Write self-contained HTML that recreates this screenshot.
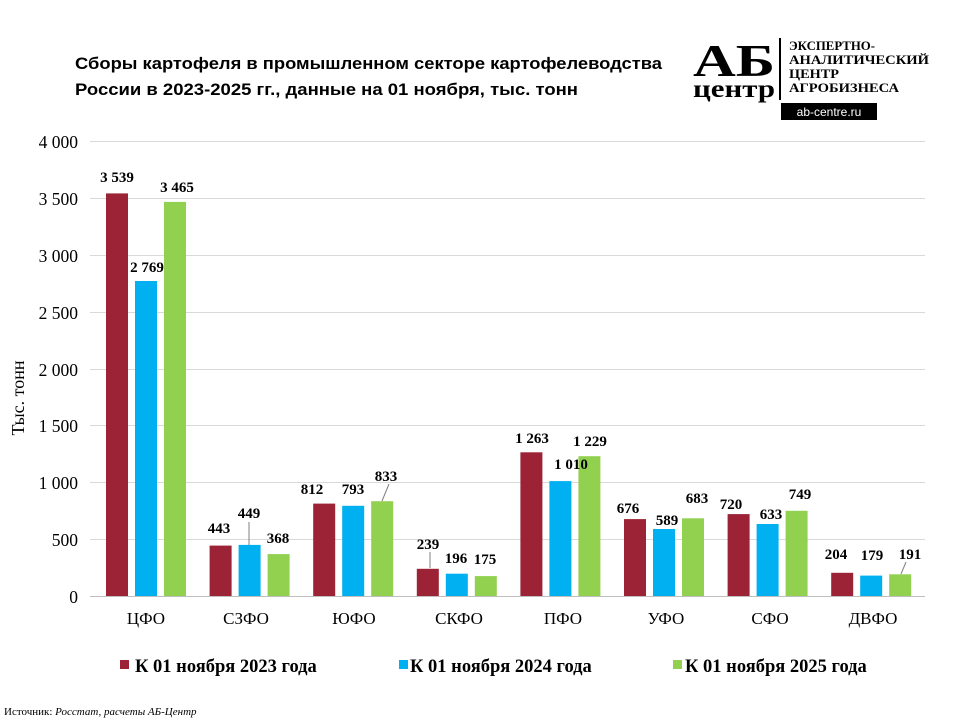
<!DOCTYPE html>
<html><head><meta charset="utf-8"><style>
body{margin:0;background:#fff}
svg{display:block}
.v{font:bold 15px "Liberation Serif",serif;text-anchor:middle;fill:#000}
.t{font:17.5px "Liberation Serif",serif;text-anchor:end;fill:#000}
.c{font:17px "Liberation Serif",serif;text-anchor:middle;fill:#000}
.l{font:bold 18.5px "Liberation Serif",serif;fill:#000}
</style></head><body>
<svg width="960" height="720" xmlns="http://www.w3.org/2000/svg">
<text x="75" y="69" textLength="587" lengthAdjust="spacingAndGlyphs" style="font:bold 17px 'Liberation Sans',sans-serif">Сборы картофеля в промышленном секторе картофелеводства</text>
<text x="75" y="95" textLength="503" lengthAdjust="spacingAndGlyphs" style="font:bold 17px 'Liberation Sans',sans-serif">России в 2023-2025 гг., данные на 01 ноября, тыс. тонн</text>
<!-- logo -->
<text x="693" y="76" textLength="82" lengthAdjust="spacingAndGlyphs" style="font:bold 46px 'Liberation Serif',serif">АБ</text>
<text x="693" y="97" textLength="82" lengthAdjust="spacingAndGlyphs" style="font:bold 25px 'Liberation Serif',serif">центр</text>
<rect x="779" y="38" width="2" height="62" fill="#000"/>
<g style="font:bold 13px 'Liberation Serif',serif">
<text x="789" y="50" textLength="86" lengthAdjust="spacingAndGlyphs">ЭКСПЕРТНО-</text>
<text x="789" y="64" textLength="140" lengthAdjust="spacingAndGlyphs">АНАЛИТИЧЕСКИЙ</text>
<text x="789" y="78" textLength="50" lengthAdjust="spacingAndGlyphs">ЦЕНТР</text>
<text x="789" y="92" textLength="110" lengthAdjust="spacingAndGlyphs">АГРОБИЗНЕСА</text>
</g>
<rect x="781" y="103" width="96" height="17" fill="#000"/>
<text x="829" y="116" style="font:12px 'Liberation Sans',sans-serif;fill:#fff;text-anchor:middle">ab-centre.ru</text>
<!-- grid -->
<g stroke="#d9d9d9" stroke-width="1">
<line x1="90" x2="925" y1="141.5" y2="141.5"/><line x1="90" x2="925" y1="198.5" y2="198.5"/>
<line x1="90" x2="925" y1="255.5" y2="255.5"/><line x1="90" x2="925" y1="312.5" y2="312.5"/>
<line x1="90" x2="925" y1="369.5" y2="369.5"/><line x1="90" x2="925" y1="425.5" y2="425.5"/>
<line x1="90" x2="925" y1="482.5" y2="482.5"/><line x1="90" x2="925" y1="539.5" y2="539.5"/>
</g>
<g>
<text x="78" y="148" class="t">4 000</text><text x="78" y="205" class="t">3 500</text>
<text x="78" y="262" class="t">3 000</text><text x="78" y="319" class="t">2 500</text>
<text x="78" y="376" class="t">2 000</text><text x="78" y="432" class="t">1 500</text>
<text x="78" y="489" class="t">1 000</text><text x="78" y="546" class="t">500</text>
<text x="78" y="603" class="t">0</text>
</g>
<text transform="translate(24,398) rotate(-90)" style="font:18px 'Liberation Serif',serif;text-anchor:middle">Тыс. тонн</text>
<g>
<rect x="106" y="193.4" width="22" height="402.6" fill="#9B2335"/>
<rect x="135" y="281" width="22" height="315" fill="#00B0F0"/>
<rect x="164" y="201.9" width="22" height="394.1" fill="#92D050"/>
<rect x="209.6" y="545.6" width="22" height="50.4" fill="#9B2335"/>
<rect x="238.6" y="544.9" width="22" height="51.1" fill="#00B0F0"/>
<rect x="267.6" y="554.1" width="22" height="41.9" fill="#92D050"/>
<rect x="313.2" y="503.6" width="22" height="92.4" fill="#9B2335"/>
<rect x="342.2" y="505.8" width="22" height="90.2" fill="#00B0F0"/>
<rect x="371.2" y="501.2" width="22" height="94.8" fill="#92D050"/>
<rect x="416.8" y="568.8" width="22" height="27.2" fill="#9B2335"/>
<rect x="445.8" y="573.7" width="22" height="22.3" fill="#00B0F0"/>
<rect x="474.8" y="576.1" width="22" height="19.9" fill="#92D050"/>
<rect x="520.4" y="452.3" width="22" height="143.7" fill="#9B2335"/>
<rect x="549.4" y="481.1" width="22" height="114.9" fill="#00B0F0"/>
<rect x="578.4" y="456.2" width="22" height="139.8" fill="#92D050"/>
<rect x="624" y="519.1" width="22" height="76.9" fill="#9B2335"/>
<rect x="653" y="529" width="22" height="67" fill="#00B0F0"/>
<rect x="682" y="518.3" width="22" height="77.7" fill="#92D050"/>
<rect x="727.6" y="514.1" width="22" height="81.9" fill="#9B2335"/>
<rect x="756.6" y="524" width="22" height="72" fill="#00B0F0"/>
<rect x="785.6" y="510.8" width="22" height="85.2" fill="#92D050"/>
<rect x="831.2" y="572.8" width="22" height="23.2" fill="#9B2335"/>
<rect x="860.2" y="575.6" width="22" height="20.4" fill="#00B0F0"/>
<rect x="889.2" y="574.3" width="22" height="21.7" fill="#92D050"/>
</g>
<line x1="90" x2="925" y1="596.5" y2="596.5" stroke="#bfbfbf"/>
<g stroke="#808080" stroke-width="1">
<line x1="249" y1="522" x2="249" y2="545"/>
<line x1="389" y1="484" x2="382" y2="501"/>
<line x1="430" y1="552" x2="430" y2="568"/>
<line x1="906" y1="562" x2="901" y2="574"/>
</g>
<g>
<text x="117" y="182" class="v">3 539</text><text x="147" y="272" class="v">2 769</text><text x="177" y="192" class="v">3 465</text>
<text x="219" y="533" class="v">443</text><text x="249" y="518" class="v">449</text><text x="278" y="543" class="v">368</text>
<text x="312" y="494" class="v">812</text><text x="353" y="494" class="v">793</text><text x="386" y="481" class="v">833</text>
<text x="428" y="549" class="v">239</text><text x="456" y="563" class="v">196</text><text x="485" y="564" class="v">175</text>
<text x="532" y="443" class="v">1 263</text><text x="571" y="469" class="v">1 010</text><text x="590" y="446" class="v">1 229</text>
<text x="628" y="513" class="v">676</text><text x="667" y="525" class="v">589</text><text x="697" y="503" class="v">683</text>
<text x="731" y="509" class="v">720</text><text x="771" y="519" class="v">633</text><text x="800" y="499" class="v">749</text>
<text x="836" y="559" class="v">204</text><text x="872" y="560" class="v">179</text><text x="910" y="559" class="v">191</text>
</g>
<g>
<text x="146" y="624" class="c">ЦФО</text><text x="246" y="624" class="c">СЗФО</text>
<text x="354" y="624" class="c">ЮФО</text><text x="459" y="624" class="c">СКФО</text>
<text x="563" y="624" class="c">ПФО</text><text x="666" y="624" class="c">УФО</text>
<text x="770" y="624" class="c">СФО</text><text x="873" y="624" class="c">ДВФО</text>
</g>
<rect x="120" y="660" width="9" height="9" fill="#9B2335"/>
<text x="135" y="672" class="l">К 01 ноября 2023 года</text>
<rect x="399" y="660" width="9" height="9" fill="#00B0F0"/>
<text x="410" y="672" class="l">К 01 ноября 2024 года</text>
<rect x="673" y="660" width="9" height="9" fill="#92D050"/>
<text x="685" y="672" class="l">К 01 ноября 2025 года</text>
<text x="4" y="715" style="font:11px 'Liberation Serif',serif">Источник: <tspan font-style="italic">Росстат, расчеты АБ-Центр</tspan></text>
</svg>
</body></html>
